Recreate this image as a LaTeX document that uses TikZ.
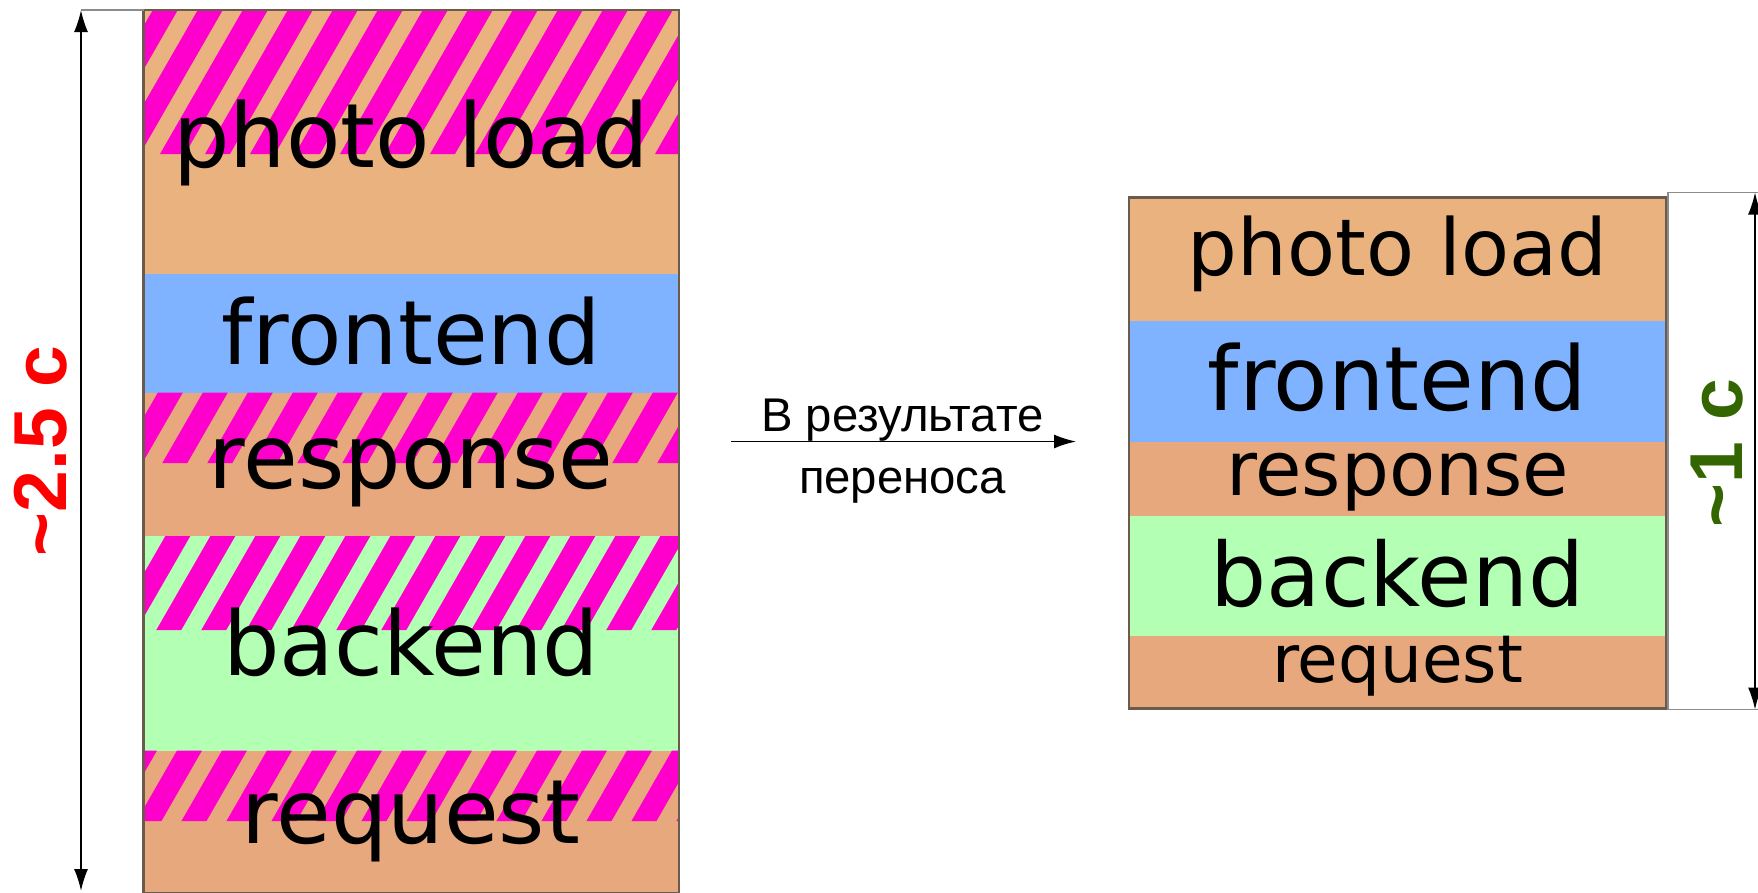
\documentclass[tikz,border=0pt]{standalone}
\usepackage{fontspec}
\setmainfont{DejaVu Sans}
\newfontfamily\arialf{Liberation Sans}
\usetikzlibrary{arrows.meta}

\definecolor{tanA}{HTML}{E9B27F}
\definecolor{tanB}{HTML}{E6A87C}
\definecolor{feblue}{HTML}{80B3FF}
\definecolor{begreen}{HTML}{B3FFB3}
\definecolor{hatchpink}{HTML}{FF00CC}
\definecolor{rim}{HTML}{6B5B4D}
\definecolor{sizegreen}{HTML}{336600}
\definecolor{extgray}{HTML}{8C8C8C}

\newcommand{\fsz}[1]{\fontsize{#1}{#1}\selectfont}

\tikzset{
  layertext/.style={inner sep=0pt, anchor=base, text=black},
  boxrim/.style={draw=rim, line width=2.5pt},
  dimarrow/.style={line width=1.6pt, {Latex[length=22pt,width=14pt]}-{Latex[length=22pt,width=14pt]}},
  extline/.style={draw=extgray, line width=1.4pt},
  sizelabel/.style={inner sep=0pt, rotate=90, font=\arialf\bfseries\fsz{75}},
  movearrow/.style={line width=1.5pt, -{Latex[length=22pt,width=14pt]}},
  movetext/.style={inner sep=0pt, anchor=base, font=\arialf\fsz{47.3}},
}

\begin{document}
\begin{tikzpicture}[x=1pt,y=-1pt]
\useasboundingbox (0,0) rectangle (1758,892);
\clip (0,0) rectangle (1758,892);

% ---------- left stack (before) ----------
\fill[tanA]    (143.5,10)    rectangle (679,273.6);
\fill[feblue]  (143.5,273.6) rectangle (679,392.7);
\fill[tanB]    (143.5,392.7) rectangle (679,536);
\fill[begreen] (143.5,536)   rectangle (679,750.7);
\fill[tanB]    (143.5,750.7) rectangle (679,892);

% diagonal hatching over the upper part of each delayed layer
\begin{scope}
  \clip (143.5,10) rectangle (679,154)
        (143.5,392.7) rectangle (679,463)
        (143.5,536) rectangle (679,630)
        (143.5,750.7) rectangle (679,821);
  \foreach \k in {-3,...,22} {
    \pgfmathsetmacro\xa{160+45*\k}
    \fill[hatchpink] ({\xa-428.95},900) -- ({\xa-403.95},900)
                     -- ({\xa+113.55},0) -- ({\xa+88.55},0) -- cycle;
  }
\end{scope}

\node[layertext, font=\fsz{89}] (lphoto) at (411,167)   {photo load};
\node[layertext, font=\fsz{89}] (lfront) at (411,364.4) {frontend};
\node[layertext, font=\fsz{89}] (lresp)  at (411,488)   {response};
\node[layertext, font=\fsz{89}] (lback)  at (411,675)   {backend};
\node[layertext, font=\fsz{89}] (lreq)   at (411,843.5) {request};

\draw[boxrim] (143.5,10) rectangle (679,893);

% left size marker
\coordinate (ltop) at (81,10);
\coordinate (lbot) at (81,891);
\coordinate (lext) at (143.5,10);
\draw[extline] (ltop) -- (lext);
\draw[dimarrow] (lbot) -- (ltop);
\node[sizelabel, text=red] (lsize) at (40.5,451) {\char`\~2.5 c};

% ---------- transition arrow ----------
\coordinate (ms) at (731,441.5);
\coordinate (me) at (1076,441.5);
\draw[movearrow] (ms) -- (me);
\node[movetext] (mtop) at (902.5,431.7) {В результате};
\node[movetext] (mbot) at (902.5,493.3) {переноса};

% ---------- right stack (after) ----------
\fill[tanA]    (1129,197.3) rectangle (1666,320.5);
\fill[feblue]  (1129,320.5) rectangle (1666,442);
\fill[tanB]    (1129,442)   rectangle (1666,515.5);
\fill[begreen] (1129,515.5) rectangle (1666,635.5);
\fill[tanB]    (1129,635.5) rectangle (1666,708.6);

\node[layertext, font=\fsz{78.5}] (rphoto) at (1397.5,275.6) {photo load};
\node[layertext, font=\fsz{89}] (rfront) at (1397.5,410.5) {frontend};
\node[layertext, font=\fsz{75.5}] (rresp)  at (1397.5,495)   {response};
\node[layertext, font=\fsz{88.5}] (rback)  at (1397.5,606.5) {backend};
\node[layertext, font=\fsz{66}] (rreq)   at (1397.5,682)   {request};

\draw[boxrim] (1129,197.3) rectangle (1666,708.6);

% right size marker
\coordinate (rtop) at (1755,192.5);
\coordinate (rbot) at (1755,709.5);
\coordinate (rexa) at (1668,192.5);
\coordinate (rexb) at (1668,709.5);
\draw[extline] (1758,192.5) -- (rexa) -- (rexb) -- (1758,709.5);
\draw[dimarrow] (rbot) -- (rtop);
\node[sizelabel, text=sizegreen] (rsize) at (1717,453) {\char`\~1 c};
\end{tikzpicture}
\end{document}
